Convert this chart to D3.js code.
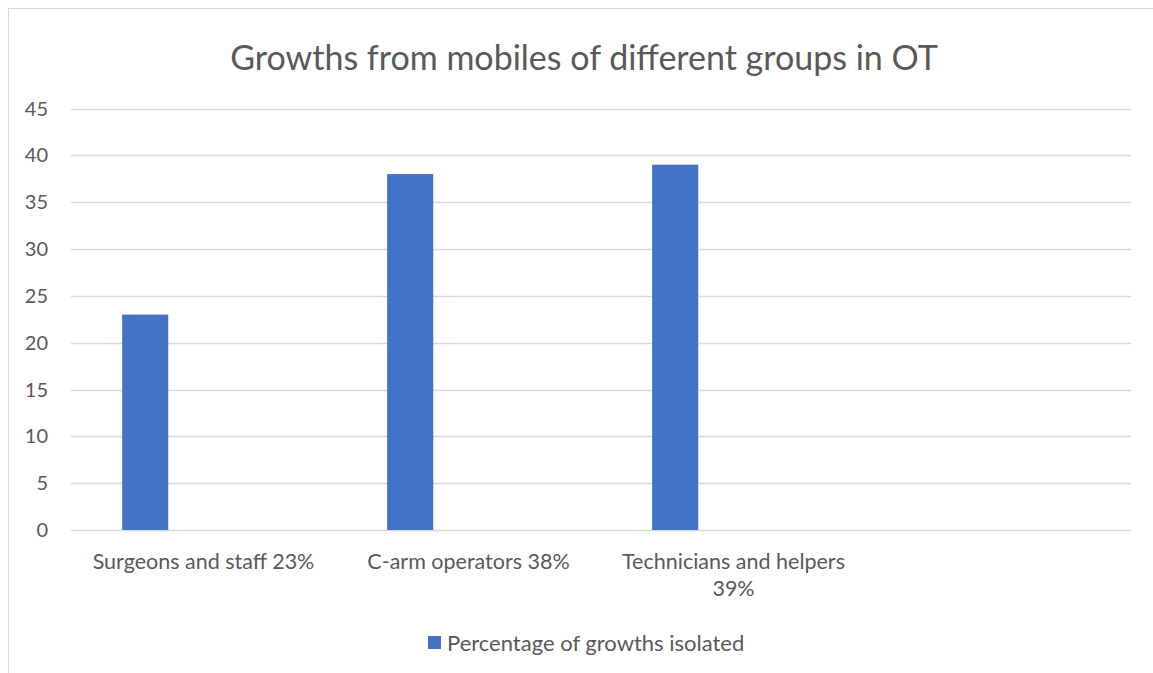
<!DOCTYPE html>
<html>
<head>
<meta charset="utf-8">
<script src="https://cdn.jsdelivr.net/npm/d3@7"></script>
<style>
  html, body { margin: 0; padding: 0; background: #fff; }
  svg { display: block; }
  text { font-family: Lato, "Open Sans", sans-serif; fill: #595959; }
</style>
</head>
<body>
<svg id="chart" width="1153" height="673"></svg>
<script>
const title = "Growths from mobiles of different groups in OT";
const categories = [["Surgeons and staff 23%"], ["C-arm operators 38%"], ["Technicians and helpers", "39%"], [""]];
const seriesName = "Percentage of growths isolated";
const values = [23, 38, 39, null];
const yTicks = [0, 5, 10, 15, 20, 25, 30, 35, 40, 45];

const W = 1153, H = 673;
const svg = d3.select("#chart");
const m = { left: 71, right: 1131, top: 108.5, bottom: 530 };

// frame
svg.append("rect").attr("x", 8.5).attr("y", 8.5).attr("width", W + 10).attr("height", H + 10)
  .attr("fill", "none").attr("stroke", "#d9d9d9").attr("stroke-width", 1);

const x = d3.scaleBand().domain(d3.range(categories.length)).range([m.left, m.right]).padding(0);
const y = d3.scaleLinear().domain([0, 45]).range([m.bottom, m.top]);

// gridlines
svg.append("g").selectAll("line").data(yTicks).join("line")
  .attr("x1", m.left).attr("x2", m.right)
  .attr("y1", d => Math.round(y(d)) + 0.5).attr("y2", d => Math.round(y(d)) + 0.5)
  .attr("stroke", "#d9d9d9").attr("stroke-width", 1.3);

// y axis labels
svg.append("g").selectAll("text").data(yTicks).join("text")
  .attr("x", 48).attr("y", d => y(d)).attr("dy", "0.35em")
  .attr("text-anchor", "end").style("font-size", "20px").text(d => d);

// bars
const bw = x.bandwidth();
const barOff = 0.193 * bw, barW = 0.174 * bw;
svg.append("g").selectAll("rect").data(values.map((v, i) => ({ v, i })).filter(d => d.v != null)).join("rect")
  .attr("x", d => x(d.i) + barOff).attr("width", barW)
  .attr("y", d => y(d.v)).attr("height", d => y(0) - y(d.v))
  .attr("fill", "#4472C4");

// x labels
const xl = svg.append("g").selectAll("text").data(categories).join("text")
  .attr("x", (d, i) => x(i) + bw / 2).attr("y", 569)
  .attr("text-anchor", "middle").style("font-size", "21.5px");
xl.selectAll("tspan").data(d => d).join("tspan")
  .attr("x", function() { return d3.select(this.parentNode).attr("x"); })
  .attr("dy", (d, j) => j === 0 ? 0 : 27)
  .text(d => d);

// title
svg.append("text").attr("x", 584).attr("y", 70).attr("text-anchor", "middle")
  .style("font-size", "34px").text(title);

// legend
svg.append("rect").attr("x", 428).attr("y", 636).attr("width", 13).attr("height", 13).attr("fill", "#4472C4");
svg.append("text").attr("x", 447).attr("y", 643).attr("dy", "0.35em")
  .style("font-size", "22px").text(seriesName);
</script>
</body>
</html>
